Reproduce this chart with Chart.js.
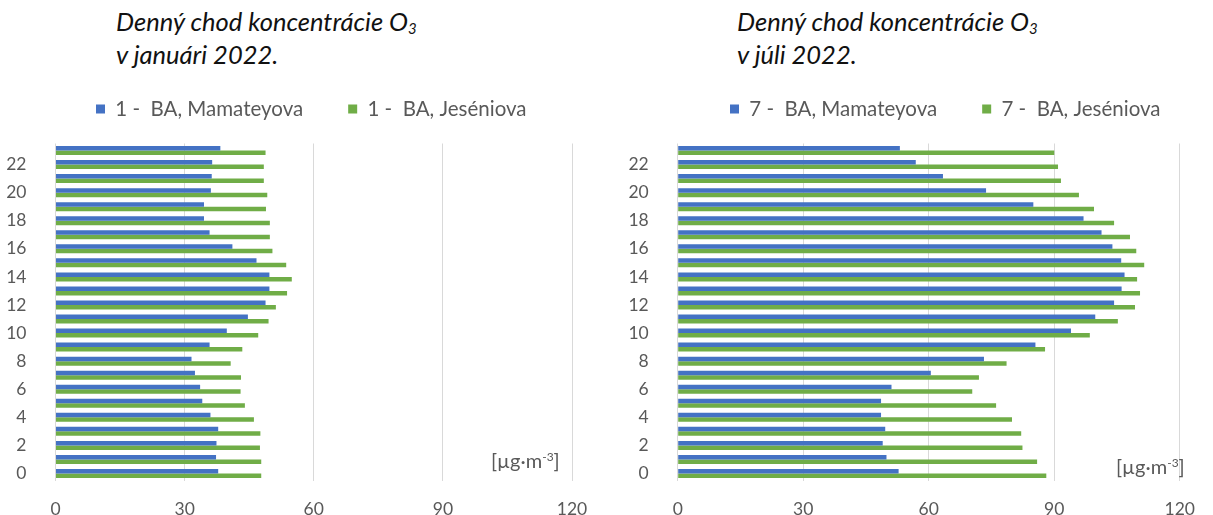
<!DOCTYPE html>
<html>
<head>
<meta charset="utf-8">
<script src="https://cdn.jsdelivr.net/npm/chart.js@4"></script>
<style>
  body { margin: 0; width: 1213px; height: 515px; overflow: hidden; background: #fff; font-family: Lato, sans-serif; position: relative; }
  .title { position: absolute; top: 5px; font-style: italic; font-size: 25.5px; line-height: 33px; color: #111; white-space: nowrap; }
  .title sub { font-size: 15px; vertical-align: -3px; line-height: 0; }
  .unit { position: absolute; font-size: 20px; color: #595959; white-space: nowrap; }
  .unit sup { font-size: 12px; vertical-align: 7px; line-height: 0; }
  canvas { position: absolute; top: 0; }
</style>
</head>
<body>
<div class="title" style="left:116px">Denný chod koncentrácie O<sub>3</sub><br>v januári 2022.</div>
<div class="title" style="left:737px">Denný chod koncentrácie O<sub>3</sub><br>v júli 2022.</div>
<canvas id="jan" width="620" height="515" style="left:0"></canvas>
<canvas id="jul" width="593" height="515" style="left:620px"></canvas>
<div class="unit" style="left:491px;top:448px">[µg·m<sup>-3</sup>]</div>
<div class="unit" style="left:1116px;top:454px">[µg·m<sup>-3</sup>]</div>
<script>
const hours = ["0", "1", "2", "3", "4", "5", "6", "7", "8", "9", "10", "11",
  "12", "13", "14", "15", "16", "17", "18", "19", "20", "21", "22", "23"];

const janMamateyova = [37.8, 37.3, 37.4, 37.8, 36.0, 34.1, 33.6, 32.4, 31.6, 35.8, 39.8, 44.7,
  48.8, 49.7, 49.7, 46.7, 41.1, 35.8, 34.5, 34.5, 36.1, 36.3, 36.4, 38.3];
const janJeseniova = [47.8, 47.8, 47.5, 47.6, 46.1, 44.0, 43.0, 43.1, 40.7, 43.4, 47.1, 49.5,
  51.2, 53.8, 54.9, 53.6, 50.4, 49.8, 49.8, 48.9, 49.2, 48.4, 48.4, 48.8];

const julMamateyova = [52.8, 49.9, 49.0, 49.6, 48.6, 48.6, 51.1, 60.5, 73.2, 85.5, 94.0, 99.8,
  104.3, 106.1, 106.8, 106.0, 103.9, 101.3, 97.0, 85.0, 73.7, 63.4, 56.9, 53.1];
const julJeseniova = [88.1, 85.9, 82.4, 82.1, 79.9, 76.1, 70.4, 72.0, 78.6, 87.8, 98.5, 105.2,
  109.3, 110.5, 109.8, 111.5, 109.6, 108.1, 104.3, 99.5, 95.9, 91.6, 90.9, 90.0];

const xTicks = [0, 30, 60, 90, 120];

const gray = "#595959";

// legend is taken out of the layout and put where the reference has it
const placeLegend = {
  id: "placeLegend",
  beforeInit(chart) {
    const fit = chart.legend.fit;
    chart.legend.fit = function () {
      fit.call(this);
      this.height = 0;
    };
  },
  afterLayout(chart, args, opts) {
    const lg = chart.legend;
    const pad = lg.options.labels.padding;
    const size = lg.options.labels.font.size;
    lg.left = opts.boxX - pad;
    lg.top = opts.centerY - pad - size / 2;
    lg.width = chart.width - lg.left;
    lg.height = pad * 2 + size;
    lg.right = lg.left + lg.width;
    lg.bottom = lg.top + lg.height;
  },
};

function makeChart(id, month, blue, green, geo) {
  return new Chart(document.getElementById(id), {
    type: "bar",
    data: {
      labels: hours,
      datasets: [
        { label: month + " -  BA, Mamateyova", data: blue, backgroundColor: "#4472C4" },
        { label: month + " -  BA, Jeséniova", data: green, backgroundColor: "#70AD47" },
      ],
    },
    options: {
      indexAxis: "y",
      responsive: false,
      animation: false,
      categoryPercentage: 0.64,
      barPercentage: 1,
      layout: { padding: { left: 0, right: geo.padRight, top: 143.5, bottom: 0 } },
      scales: {
        x: {
          min: 0,
          max: 120,
          afterBuildTicks: (scale) => {
            scale.ticks = xTicks.map((v) => ({ value: v }));
          },
          afterFit: (scale) => {
            scale.height = 34.5;
          },
          grid: { color: "#D9D9D9", drawTicks: false },
          border: { display: false },
          ticks: { padding: 18, color: gray, font: { family: "Lato", size: 17.5 } },
        },
        y: {
          reverse: true,
          afterFit: (scale) => {
            scale.width = geo.axisWidth;
          },
          grid: { display: false },
          border: { display: false },
          ticks: {
            autoSkip: false,
            padding: 21,
            color: gray,
            font: { family: "Lato", size: 17.5 },
            callback: (value) => (value % 2 === 0 ? hours[value] : ""),
          },
        },
      },
      plugins: {
        legend: {
          align: "start",
          labels: {
            color: gray,
            font: { family: "Lato", size: 20.5 },
            boxWidth: 9,
            boxHeight: 9,
            padding: 45,
          },
        },
        tooltip: { enabled: false },
        placeLegend: { boxX: geo.legendX, centerY: 109 },
      },
    },
    plugins: [placeLegend],
  });
}

makeChart("jan", "1", janMamateyova, janJeseniova, { axisWidth: 55.5, padRight: 48, legendX: 96 });
makeChart("jul", "7", julMamateyova, julJeseniova, { axisWidth: 57.7, padRight: 18, legendX: 730 - 620 });
</script>
</body>
</html>
